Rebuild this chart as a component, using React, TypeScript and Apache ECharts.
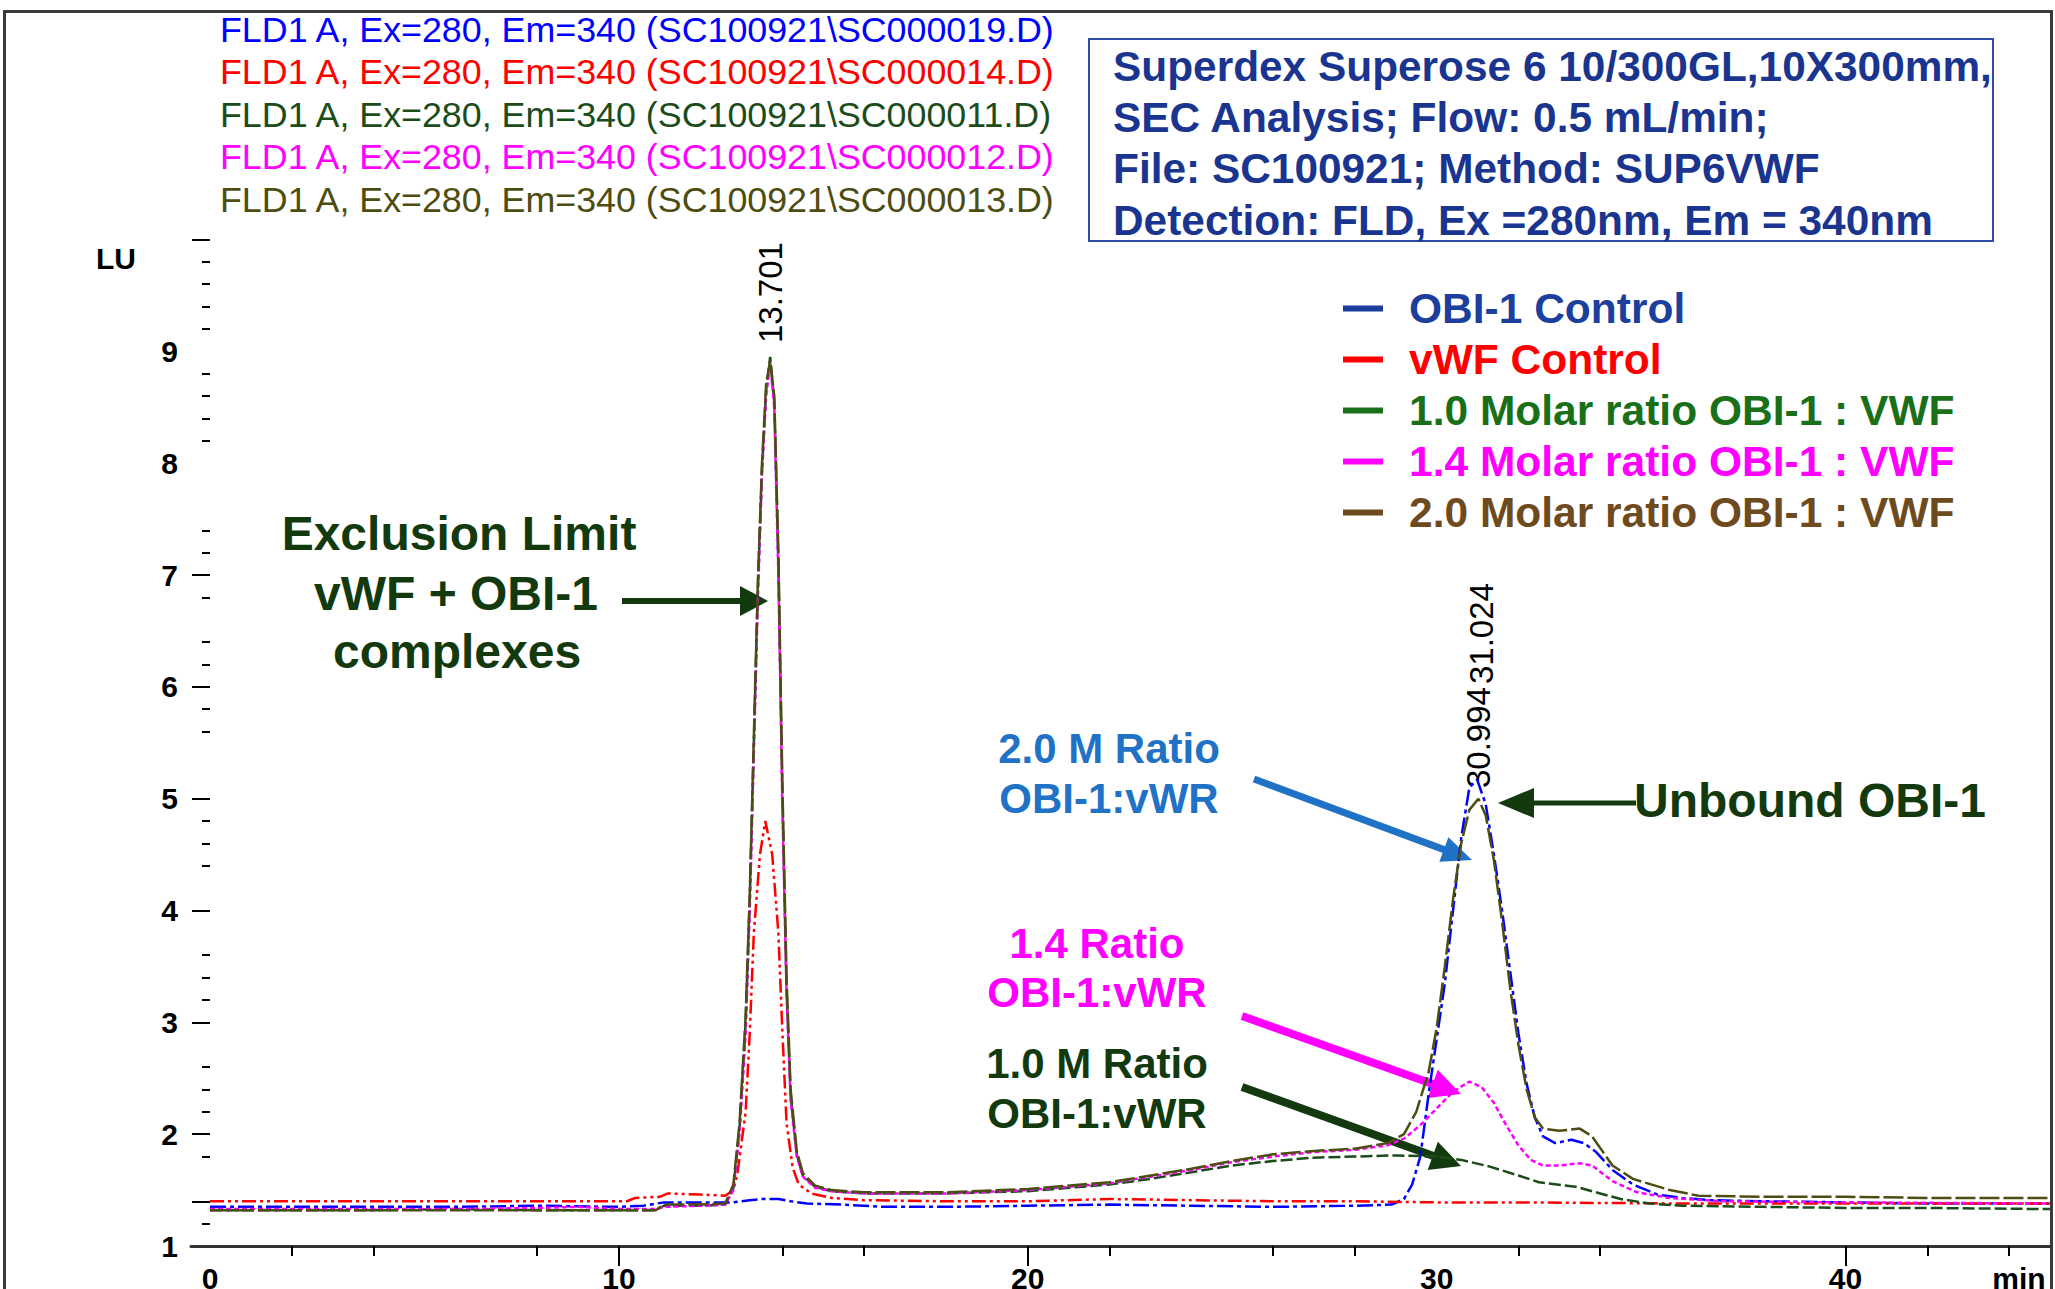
import React, { useEffect, useRef } from "react";
import * as echarts from "echarts";

const FONT = '"Liberation Sans", Arial, sans-serif';

// ---------- data ----------
const seriesNames = [
  "OBI-1 Control",
  "vWF Control",
  "1.0 Molar ratio OBI-1 : VWF",
  "1.4 Molar ratio OBI-1 : VWF",
  "2.0 Molar ratio OBI-1 : VWF",
];
const fileLabels = [
  "FLD1 A, Ex=280, Em=340 (SC100921\\SC000019.D)",
  "FLD1 A, Ex=280, Em=340 (SC100921\\SC000014.D)",
  "FLD1 A, Ex=280, Em=340 (SC100921\\SC000011.D)",
  "FLD1 A, Ex=280, Em=340 (SC100921\\SC000012.D)",
  "FLD1 A, Ex=280, Em=340 (SC100921\\SC000013.D)",
];
const boxLines = [
  "Superdex Superose 6 10/300GL,10X300mm,",
  "SEC Analysis; Flow: 0.5 mL/min;",
  "File: SC100921; Method: SUP6VWF",
  "Detection: FLD, Ex =280nm, Em = 340nm",
];

const obiControl = [
  [0, 1.35], [2, 1.35], [4, 1.35], [6, 1.35], [8, 1.36], [10, 1.35], [10.6, 1.36], [11.1, 1.39],
  [12.0, 1.39], [12.8, 1.39], [13.2, 1.41], [13.5, 1.42], [13.9, 1.42], [14.2, 1.4], [14.6, 1.38],
  [15.5, 1.37], [16.5, 1.35], [18, 1.35], [20, 1.36], [22, 1.37], [24, 1.36], [26, 1.35], [28, 1.36],
  [28.9, 1.37], [29.2, 1.42], [29.4, 1.55], [29.6, 1.8], [29.8, 2.35], [30.0, 2.85], [30.2, 3.35],
  [30.4, 4.0], [30.6, 4.65], [30.8, 5.1], [30.99, 5.17], [31.2, 4.95], [31.4, 4.5], [31.6, 4.0],
  [31.8, 3.45], [32.0, 2.9], [32.2, 2.45], [32.4, 2.15], [32.6, 1.98], [32.9, 1.92], [33.3, 1.95],
  [33.6, 1.92], [33.9, 1.84], [34.3, 1.68], [34.8, 1.55], [35.4, 1.46], [36.0, 1.43], [36.7, 1.41],
  [38, 1.4], [40, 1.39], [42, 1.38], [45, 1.38],
];
const vwfControl = [
  [0, 1.4], [2, 1.4], [4, 1.4], [6, 1.4], [8, 1.4], [10.2, 1.4], [10.4, 1.43], [11.0, 1.44],
  [11.2, 1.47], [12.0, 1.46], [12.6, 1.45], [12.8, 1.5], [12.9, 1.65], [13.1, 2.2], [13.2, 2.9],
  [13.3, 3.8], [13.45, 4.5], [13.58, 4.8], [13.75, 4.5], [13.9, 3.8], [14.0, 2.9], [14.1, 2.1],
  [14.25, 1.7], [14.4, 1.55], [14.7, 1.47], [15.2, 1.43], [16, 1.41], [18, 1.4], [20, 1.4],
  [22, 1.42], [24, 1.41], [26, 1.4], [28, 1.4], [30, 1.39], [32, 1.39], [36, 1.38], [40, 1.38], [45, 1.38],
];
const ratio10 = [
  [0, 1.32], [2, 1.32], [4, 1.32], [6, 1.33], [8, 1.32], [10, 1.32], [10.9, 1.32], [11.1, 1.36],
  [12.0, 1.36], [12.6, 1.37], [12.8, 1.52], [12.95, 2.05], [13.1, 3.0], [13.2, 4.1], [13.3, 5.5],
  [13.4, 6.9], [13.5, 7.95], [13.6, 8.65], [13.7, 8.95], [13.8, 8.55], [13.9, 7.1], [14.0, 5.0],
  [14.1, 3.3], [14.2, 2.35], [14.35, 1.82], [14.5, 1.63], [14.8, 1.53], [15.2, 1.49], [16, 1.47],
  [17, 1.47], [18, 1.47], [19, 1.48], [20, 1.49], [21, 1.52], [22, 1.55], [23, 1.6], [24, 1.66],
  [25, 1.72], [26, 1.76], [27, 1.79], [28, 1.8], [29, 1.81], [30, 1.8], [30.6, 1.77], [31.3, 1.71],
  [32.0, 1.63], [32.5, 1.57], [33.4, 1.53], [34.0, 1.47], [34.5, 1.42], [35.2, 1.38], [36, 1.36],
  [38, 1.35], [40, 1.34], [42, 1.34], [45, 1.33],
];
const ratio14 = [
  [0, 1.33], [2, 1.33], [4, 1.33], [6, 1.33], [8, 1.34], [9, 1.35], [10, 1.33], [10.9, 1.33],
  [11.1, 1.35], [12.0, 1.36], [12.6, 1.37], [12.8, 1.5], [12.95, 2.0], [13.1, 2.9], [13.2, 4.0],
  [13.3, 5.4], [13.4, 6.8], [13.5, 7.9], [13.6, 8.6], [13.7, 8.9], [13.8, 8.5], [13.9, 7.0],
  [14.0, 4.9], [14.1, 3.25], [14.2, 2.3], [14.35, 1.8], [14.5, 1.62], [14.8, 1.52], [15.2, 1.49],
  [16, 1.47], [18, 1.47], [20, 1.5], [22, 1.56], [24, 1.68], [25, 1.75], [26, 1.8], [27, 1.84],
  [28, 1.86], [28.8, 1.9], [29.2, 1.96], [29.6, 2.08], [30.0, 2.23], [30.4, 2.38], [30.8, 2.47],
  [31.1, 2.42], [31.4, 2.28], [31.7, 2.08], [32.0, 1.9], [32.3, 1.77], [32.6, 1.72], [33.0, 1.72],
  [33.5, 1.74], [33.8, 1.72], [34.3, 1.58], [34.9, 1.48], [35.7, 1.43], [37, 1.4], [40, 1.39], [45, 1.38],
];
const ratio20 = [
  [0, 1.32], [2, 1.32], [4, 1.32], [6, 1.32], [8, 1.32], [10, 1.32], [10.9, 1.32], [11.1, 1.37],
  [12.0, 1.37], [12.6, 1.38], [12.8, 1.55], [12.95, 2.1], [13.1, 3.05], [13.2, 4.15], [13.3, 5.55],
  [13.4, 6.95], [13.5, 8.0], [13.6, 8.7], [13.7, 8.92], [13.8, 8.6], [13.9, 7.2], [14.0, 5.1],
  [14.1, 3.4], [14.2, 2.4], [14.35, 1.85], [14.5, 1.65], [14.8, 1.54], [15.2, 1.5], [16, 1.48],
  [18, 1.48], [20, 1.51], [22, 1.57], [24, 1.69], [25, 1.76], [26, 1.82], [27, 1.85], [28, 1.87],
  [28.8, 1.92], [29.2, 2.0], [29.5, 2.2], [29.8, 2.55], [30.0, 2.95], [30.2, 3.5], [30.4, 4.1],
  [30.6, 4.6], [30.8, 4.9], [31.02, 5.0], [31.2, 4.85], [31.4, 4.45], [31.6, 3.9], [31.8, 3.3],
  [32.0, 2.8], [32.2, 2.4], [32.4, 2.15], [32.6, 2.05], [33.0, 2.03], [33.5, 2.05], [33.8, 1.98],
  [34.3, 1.72], [34.8, 1.6], [35.7, 1.5], [36.4, 1.45], [38, 1.44], [40, 1.44], [42, 1.43], [45, 1.43],
];
const seriesData = [obiControl, vwfControl, ratio10, ratio14, ratio20];

const xLabelValues = [0, 10, 20, 30, 40];
const xMajorTicks = [10, 20, 40];
const xMinorTicks = [2, 4, 8, 14, 16, 22, 26, 28, 32, 34, 42, 44];
const yLabelValues = [1, 2, 3, 4, 5, 6, 7, 8, 9];
const yMajorTicks = [1.4, 2, 3, 4, 5, 6, 7, 10];
const yMinorTicks = [
  1.2, 1.8, 2.2, 2.4, 2.6, 3.2, 3.4, 3.6, 4.4, 4.6, 4.8, 5.6, 5.8, 6.2, 6.4, 6.8,
  7.2, 7.4, 8.2, 8.4, 8.6, 8.8, 9.2, 9.4, 9.6, 9.8,
];
const peakLabels = ["13.701", "30.994", "31.024"];

// ---------- styles ----------
const traceColors = ["#0000FF", "#FF0000", "#1B4D1B", "#FF00FF", "#4D4D12"];
const traceDash = [
  [16, 4, 4, 4],
  [14, 4, 3, 4, 3, 4],
  [12, 4],
  [5, 3],
  [20, 4],
];
const legendColors = ["#1C3F9E", "#FF0000", "#197019", "#FF00FF", "#6E4B1E"];
const DARK_GREEN = "#123A0E";
const ANN_BLUE = "#1F72C6";
const MAGENTA = "#FF00FF";

function arrow(x1: number, y1: number, x2: number, y2: number, color: string, w: number, hl: number, hw: number) {
  const dx = x2 - x1, dy = y2 - y1;
  const L = Math.hypot(dx, dy);
  const ux = dx / L, uy = dy / L;
  const px = -uy, py = ux;
  const bx = x2 - ux * hl, by = y2 - uy * hl;
  return [
    { type: "line", silent: true, shape: { x1, y1, x2: bx + ux * 3, y2: by + uy * 3 }, style: { stroke: color, lineWidth: w } },
    {
      type: "polygon", silent: true,
      shape: { points: [[x2, y2], [bx + (px * hw) / 2, by + (py * hw) / 2], [bx - (px * hw) / 2, by - (py * hw) / 2]] },
      style: { fill: color },
    },
  ];
}

function txt(text: string, x: number, y: number, color: string, font: string, align = "center", extra: any = {}) {
  return { type: "text", silent: true, x, y, ...extra, style: { text, fill: color, font, align, verticalAlign: "middle" } };
}

export default function App() {
  const ref = useRef<HTMLDivElement>(null);
  useEffect(() => {
    if (!ref.current) return;
    const chart = echarts.init(ref.current, null, { renderer: "svg" });
    const headerY = [30, 72, 115, 157, 200];
    const boxY = [66, 117, 168, 220];
    const graphic: any[] = [
      { type: "rect", silent: true, shape: { x: 4.5, y: 11.5, width: 2047, height: 1300 }, style: { fill: "none", stroke: "#3a3a3a", lineWidth: 3 } },
      ...fileLabels.map((t, i) => txt(t, 220, headerY[i], traceColors[i], `35.8px ${FONT}`, "left")),
      { type: "rect", silent: true, shape: { x: 1089, y: 39, width: 904, height: 202 }, style: { fill: "none", stroke: "#2F4DA8", lineWidth: 2 } },
      ...boxLines.map((t, i) => txt(t, 1113, boxY[i], "#1A3590", `bold 42.4px ${FONT}`, "left")),
      txt("LU", 116, 258, "#000", `bold 30px ${FONT}`),
      { type: "text", silent: true, x: 2019, y: 1263, style: { text: "min", fill: "#000", font: `bold 30px ${FONT}`, align: "center", verticalAlign: "top" } },
      txt("Exclusion Limit", 459, 533, DARK_GREEN, `bold 48px ${FONT}`),
      txt("vWF + OBI-1", 456, 593, DARK_GREEN, `bold 48px ${FONT}`),
      txt("complexes", 457, 651, DARK_GREEN, `bold 48px ${FONT}`),
      ...arrow(622, 601, 768, 601, DARK_GREEN, 6, 28, 30),
      txt("2.0 M Ratio", 1109, 748, ANN_BLUE, `bold 42px ${FONT}`),
      txt("OBI-1:vWR", 1109, 798, ANN_BLUE, `bold 42px ${FONT}`),
      ...arrow(1254, 779, 1472, 860, ANN_BLUE, 7, 30, 26),
      txt("1.4 Ratio", 1097, 943, MAGENTA, `bold 42px ${FONT}`),
      txt("OBI-1:vWR", 1097, 992, MAGENTA, `bold 42px ${FONT}`),
      ...arrow(1242, 1016, 1461, 1094, MAGENTA, 8, 30, 30),
      txt("1.0 M Ratio", 1097, 1063, DARK_GREEN, `bold 42px ${FONT}`),
      txt("OBI-1:vWR", 1097, 1113, DARK_GREEN, `bold 42px ${FONT}`),
      ...arrow(1242, 1087, 1461, 1166, DARK_GREEN, 8, 30, 30),
      txt("Unbound OBI-1", 1810, 800, DARK_GREEN, `bold 48px ${FONT}`),
      ...arrow(1636, 803, 1498, 803, DARK_GREEN, 5, 36, 30),
      txt(peakLabels[0], 770, 343, "#000", `33px ${FONT}`, "left", { rotation: Math.PI / 2 }),
      txt(peakLabels[1], 1478, 788, "#000", `33px ${FONT}`, "left", { rotation: Math.PI / 2 }),
      txt(peakLabels[2], 1481, 684, "#000", `33px ${FONT}`, "left", { rotation: Math.PI / 2 }),
    ];

    const xBase = {
      type: "value", min: -0.465, max: 45, position: "bottom", gridIndex: 0,
      splitLine: { show: false },
    };
    const yBase = {
      type: "value", min: 1, max: 10, position: "left", offset: -19, gridIndex: 0,
      splitLine: { show: false },
      axisLine: { show: false, onZero: false },
    };
    const tickLine = { color: "#000", width: 2 };

    chart.setOption({
      animation: false,
      backgroundColor: "#fff",
      grid: { left: 191, right: 5, top: 239.5, bottom: 43, containLabel: false, outerBoundsMode: "none" },
      xAxis: [
        {
          ...xBase,
          axisLine: { show: true, onZero: false, lineStyle: { color: "#333", width: 3 } },
          axisTick: { show: true, customValues: xMajorTicks, length: 20, lineStyle: tickLine },
          axisLabel: { show: true, customValues: xLabelValues, margin: 17, color: "#000", fontSize: 30, fontWeight: "bold", fontFamily: FONT },
        },
        {
          ...xBase,
          axisLine: { show: false, onZero: false },
          axisTick: { show: true, customValues: xMinorTicks, length: 10, lineStyle: tickLine },
          axisLabel: { show: false },
        },
      ],
      yAxis: [
        {
          ...yBase,
          axisTick: { show: true, customValues: yMajorTicks, length: 18, lineStyle: tickLine },
          axisLabel: { show: true, customValues: yLabelValues, margin: 32, color: "#000", fontSize: 30, fontWeight: "bold", fontFamily: FONT },
        },
        {
          ...yBase,
          axisTick: { show: true, customValues: yMinorTicks, length: 8, lineStyle: tickLine },
          axisLabel: { show: false },
        },
      ],
      legend: {
        orient: "vertical", left: 1338, top: 282, itemWidth: 40, itemHeight: 6, itemGap: 8,
        icon: "rect", selectedMode: false,
        textStyle: { fontSize: 42.5, fontWeight: "bold", fontFamily: FONT, padding: [0, 0, 0, 21] },
        data: seriesNames.map((n, i) => ({
          name: n,
          itemStyle: { color: legendColors[i], borderWidth: 0 },
          textStyle: { color: legendColors[i] },
        })),
      },
      series: seriesNames.map((n, i) => ({
        name: n,
        type: "line",
        xAxisIndex: 0,
        yAxisIndex: 0,
        data: seriesData[i],
        symbol: "none",
        showSymbol: false,
        itemStyle: { color: traceColors[i] },
        lineStyle: { color: traceColors[i], width: 2.5, type: traceDash[i] },
        z: 2,
      })),
      graphic,
    });
    return () => chart.dispose();
  }, []);
  return (
    <div
      ref={ref}
      style={{ position: "fixed", left: 0, top: 0, width: 2055, height: 1289, background: "#fff" }}
    />
  );
}
